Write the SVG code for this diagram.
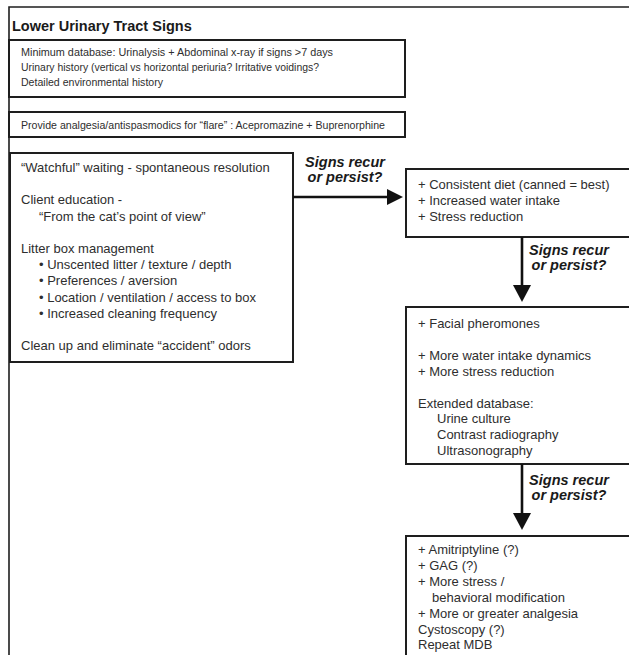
<svg xmlns="http://www.w3.org/2000/svg" width="629" height="655" viewBox="0 0 629 655">
<style>
  .box { fill: #ffffff; stroke: #1e1e1e; stroke-width: 2; }
  .frame { fill: none; stroke: #1e1e1e; stroke-width: 1.6; }
  .t { font-family: "Liberation Sans", Arial, sans-serif; fill: #2e2e2e; }
  .s11 { font-size: 11.5px; }
  .s13 { font-size: 13px; }
  .title { font-family: "Liberation Sans", Arial, sans-serif; font-size: 14.5px; font-weight: bold; fill: #1a1a1a; }
  .lbl { font-family: "Liberation Sans", Arial, sans-serif; font-size: 14.5px; font-weight: bold; font-style: italic; fill: #1a1a1a; text-anchor: middle; }
  .conn { stroke: #111111; stroke-width: 2.6; fill: none; }
  .head { fill: #111111; stroke: none; }
</style>
<rect width="629" height="655" fill="#ffffff"/>
<g id="frame">
  <path class="frame" d="M9,655 V7 H629"/>
  <text class="title" x="12" y="31">Lower Urinary Tract Signs</text>
</g>
<g id="node-database">
  <rect class="box" x="9" y="40" width="396" height="57"/>
  <text class="t s11" x="21" y="56" textLength="312" lengthAdjust="spacingAndGlyphs">Minimum database: Urinalysis + Abdominal x-ray if signs &gt;7 days</text>
  <text class="t s11" x="21" y="71" textLength="298" lengthAdjust="spacingAndGlyphs">Urinary history (vertical vs horizontal periuria? Irritative voidings?</text>
  <text class="t s11" x="21" y="86" textLength="142" lengthAdjust="spacingAndGlyphs">Detailed environmental history</text>
</g>
<g id="node-analgesia">
  <rect class="box" x="9" y="112" width="396" height="25"/>
  <text class="t s11" x="21" y="128.5" textLength="364" lengthAdjust="spacingAndGlyphs">Provide analgesia/antispasmodics for “flare” : Acepromazine + Buprenorphine</text>
</g>
<g id="node-initial">
  <rect class="box" x="10" y="153" width="283" height="209"/>
  <text class="t s13" x="21" y="172">“Watchful” waiting - spontaneous resolution</text>
  <text class="t s13" x="21" y="204.4">Client education -</text>
  <text class="t s13" x="39" y="220.6">“From the cat’s point of view”</text>
  <text class="t s13" x="21" y="253">Litter box management</text>
  <text class="t s13" x="39" y="269.2">• Unscented litter / texture / depth</text>
  <text class="t s13" x="39" y="285.4">• Preferences / aversion</text>
  <text class="t s13" x="39" y="301.6">• Location / ventilation / access to box</text>
  <text class="t s13" x="39" y="317.8">• Increased cleaning frequency</text>
  <text class="t s13" x="21" y="350.2">Clean up and eliminate “accident” odors</text>
</g>
<g id="node-step1">
  <rect class="box" x="406" y="169" width="230" height="68"/>
  <text class="t s13" x="418" y="189">+ Consistent diet (canned = best)</text>
  <text class="t s13" x="418" y="205">+ Increased water intake</text>
  <text class="t s13" x="418" y="221">+ Stress reduction</text>
</g>
<g id="node-step2">
  <rect class="box" x="406" y="307" width="230" height="157"/>
  <text class="t s13" x="418" y="328">+ Facial pheromones</text>
  <text class="t s13" x="418" y="359.8">+ More water intake dynamics</text>
  <text class="t s13" x="418" y="375.7">+ More stress reduction</text>
  <text class="t s13" x="418" y="407.5">Extended database:</text>
  <text class="t s13" x="437" y="423.4">Urine culture</text>
  <text class="t s13" x="437" y="439.3">Contrast radiography</text>
  <text class="t s13" x="437" y="455.2">Ultrasonography</text>
</g>
<g id="node-step3">
  <rect class="box" x="406" y="536" width="230" height="130"/>
  <text class="t s13" x="418" y="554">+ Amitriptyline (?)</text>
  <text class="t s13" x="418" y="569.9">+ GAG (?)</text>
  <text class="t s13" x="418" y="585.8">+ More stress /</text>
  <text class="t s13" x="432" y="601.7">behavioral modification</text>
  <text class="t s13" x="418" y="617.6">+ More or greater analgesia</text>
  <text class="t s13" x="418" y="633.5">Cystoscopy (?)</text>
  <text class="t s13" x="418" y="649.4">Repeat MDB</text>
</g>
<g id="connectors">
  <path class="conn" d="M293,197 H389"/>
  <polygon class="head" points="387,189 403,197 387,205"/>
  <text class="lbl" x="345" y="167">Signs recur</text>
  <text class="lbl" x="345" y="182">or persist?</text>

  <path class="conn" d="M522,237 V287"/>
  <polygon class="head" points="513,285 531,285 522,302"/>
  <text class="lbl" x="569" y="255">Signs recur</text>
  <text class="lbl" x="569" y="270">or persist?</text>

  <path class="conn" d="M522,464 V515"/>
  <polygon class="head" points="513,513 531,513 522,530"/>
  <text class="lbl" x="569" y="485">Signs recur</text>
  <text class="lbl" x="569" y="500">or persist?</text>
</g>
</svg>
